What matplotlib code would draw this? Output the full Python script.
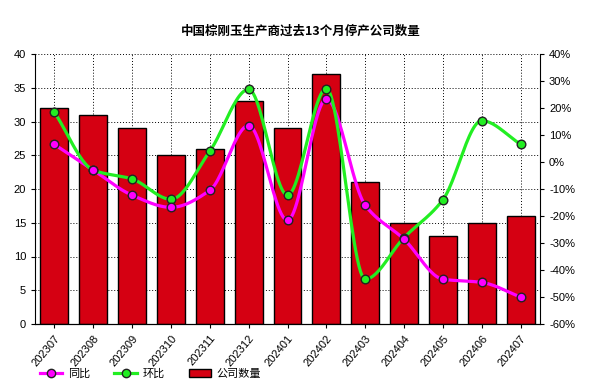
import numpy as np
import matplotlib
matplotlib.use("Agg")
import matplotlib.pyplot as plt
from matplotlib.patches import Patch
from matplotlib.lines import Line2D

plt.rcParams['font.family'] = ['Liberation Sans', 'Noto Sans CJK SC', 'DejaVu Sans']

months = ['202307', '202308', '202309', '202310', '202311', '202312', '202401',
          '202402', '202403', '202404', '202405', '202406', '202407']
company_count = [32, 31, 29, 25, 26, 33, 29, 37, 21, 15, 13, 15, 16]
yoy = [6.5, -3.0, -12.3, -16.8, -10.5, 13.5, -21.6, 23.3, -16.0, -28.6, -43.4, -44.6, -50.0]
mom = [18.4, -3.0, -6.3, -13.8, 4.0, 26.9, -12.3, 27.2, -43.4, -28.0, -14.0, 15.3, 6.6]

bar_color = '#D50012'
yoy_color = '#FF00FF'
mom_color = '#22EE22'


def smooth(x, y, n=25):
    """Monotone cubic (Fritsch-Carlson) curve through the points, for drawing."""
    x = np.asarray(x, float)
    y = np.asarray(y, float)
    h = np.diff(x)
    d = np.diff(y) / h
    m = np.zeros_like(y)
    m[0] = d[0]
    m[-1] = d[-1]
    for i in range(1, len(y) - 1):
        if d[i - 1] * d[i] <= 0:
            m[i] = 0.0
        else:
            w1 = 2 * h[i] + h[i - 1]
            w2 = h[i] + 2 * h[i - 1]
            m[i] = (w1 + w2) / (w1 / d[i - 1] + w2 / d[i])
    xs, ys = [], []
    for i in range(len(x) - 1):
        s = np.linspace(0, 1, n, endpoint=False)
        h00 = 2 * s**3 - 3 * s**2 + 1
        h10 = s**3 - 2 * s**2 + s
        h01 = -2 * s**3 + 3 * s**2
        h11 = s**3 - s**2
        xs.append(x[i] + s * h[i])
        ys.append(h00 * y[i] + h10 * h[i] * m[i] + h01 * y[i + 1] + h11 * h[i] * m[i + 1])
    xs.append([x[-1]]); ys.append([y[-1]])
    return np.concatenate(xs), np.concatenate(ys)


fig = plt.figure(figsize=(6.01, 3.85), dpi=100)
ax = fig.add_axes([35 / 601, 61 / 385, 505 / 601, 270 / 385])
x = np.arange(len(months))
ax.bar(x, company_count, width=0.72, color=bar_color, edgecolor='black', linewidth=1, zorder=2)
ax.set_xlim(-0.5, len(months) - 0.5)
ax.set_ylim(0, 40)
ax.set_yticks(range(0, 41, 5))
ax.set_xticks(x)
ax.set_xticklabels(months, rotation=50, ha='right', rotation_mode='anchor', fontsize=8)
ax.tick_params(axis='both', labelsize=8, length=3)
ax.grid(True, color='black', linestyle=(0, (1, 2)), linewidth=0.7, zorder=0)
ax.set_axisbelow(True)
for s in ['top', 'right']:
    ax.spines[s].set_visible(False)

ax2 = ax.twinx()
ax2.set_ylim(-60, 40)
ax2.set_yticks(range(-60, 41, 10))
ax2.set_yticklabels([f'{v}%' for v in range(-60, 41, 10)])
ax2.tick_params(axis='y', labelsize=8, length=3)
for s in ['top', 'left']:
    ax2.spines[s].set_visible(False)

sx, sy = smooth(x, yoy)
ax2.plot(sx, sy, color=yoy_color, linewidth=2.3, zorder=3)
sx, sy = smooth(x, mom)
ax2.plot(sx, sy, color=mom_color, linewidth=2.3, zorder=3)
ax2.plot(x, mom, linestyle='none', marker='o', markersize=6.2, markerfacecolor=mom_color,
         markeredgecolor='#222222', markeredgewidth=1, zorder=4)
ax2.plot(x, yoy, linestyle='none', marker='o', markersize=6.2, markerfacecolor=yoy_color,
         markeredgecolor='#222222', markeredgewidth=1, zorder=5)

fig.text(0.5, 1 - 31 / 385, '中国棕刚玉生产商过去13个月停产公司数量', ha='center', va='center',
         fontsize=9, fontweight='bold', family=['Noto Sans CJK SC', 'DejaVu Sans'])

handles = [
    Line2D([], [], color=yoy_color, linewidth=2.3, marker='o', markersize=6,
           markerfacecolor=yoy_color, markeredgecolor='#222222'),
    Line2D([], [], color=mom_color, linewidth=2.3, marker='o', markersize=6,
           markerfacecolor=mom_color, markeredgecolor='#222222'),
    Patch(facecolor=bar_color, edgecolor='black'),
]
fig.legend(handles, ['同比', '环比', '公司数量'], loc='center left',
           bbox_to_anchor=(30 / 601, 1 - 374 / 385), ncol=3, frameon=False,
           prop={'family': ['Noto Sans CJK SC', 'DejaVu Sans'], 'size': 8},
           handlelength=2, columnspacing=2.2, handletextpad=0.5)

fig.savefig('out.png', dpi=100)
